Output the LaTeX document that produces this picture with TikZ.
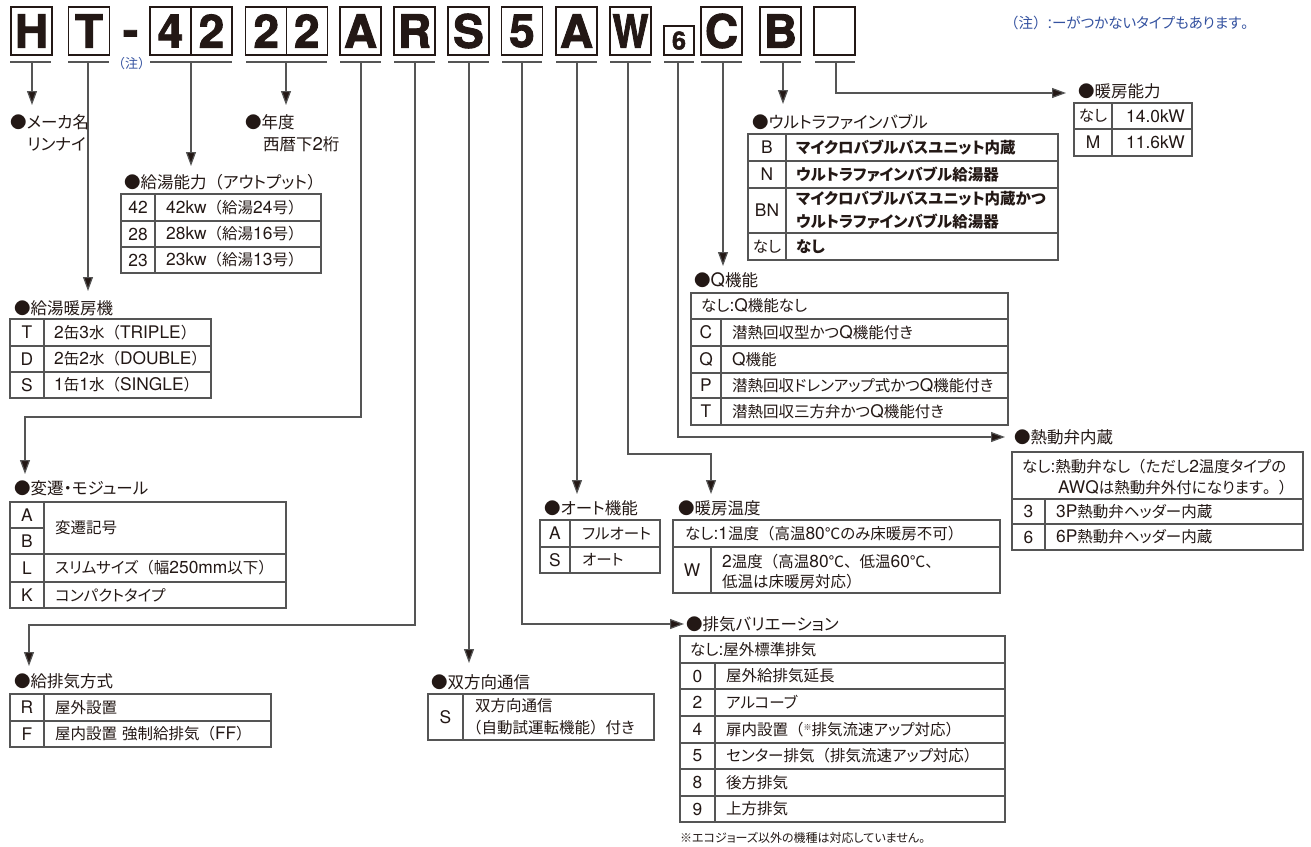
\documentclass[tikz,border=0pt]{standalone}
\usepackage{fontspec}
\setmainfont{TeX Gyre Heros}[Scale=1.12]
\newfontfamily\latfont{TeX Gyre Heros}[Scale=1.12]
\newfontfamily\jpfont{Noto Sans CJK JP}[RawFeature=+palt]
\newfontfamily\jpnfont{Noto Sans CJK JP}
\newfontfamily\hfont{TeX Gyre Heros}[BoldFeatures={FakeBold=2}]
% automatic switch between Latin and Japanese fonts
\XeTeXinterchartokenstate=1
\newXeTeXintercharclass\cjkcls
\newXeTeXintercharclass\pnccls
\newcount\cc
\cc="3000
\loop
  \XeTeXcharclass\cc=\cjkcls
  \advance\cc by 1
\ifnum\cc<"A000 \repeat
\cc="FF01
\loop
  \XeTeXcharclass\cc=\cjkcls
  \advance\cc by 1
\ifnum\cc<"FF60 \repeat
\XeTeXcharclass"25CF=\cjkcls
\XeTeXcharclass"2103=\cjkcls
\XeTeXcharclass"203B=\cjkcls
\XeTeXcharclass"FF08=\pnccls
\XeTeXcharclass"FF09=\pnccls
\XeTeXcharclass"3001=\pnccls
\XeTeXcharclass"3002=\pnccls
\XeTeXinterchartoks 0 \cjkcls = {\jpfont}
\XeTeXinterchartoks 4095 \cjkcls = {\jpfont}
\XeTeXinterchartoks \pnccls \cjkcls = {\jpfont}
\XeTeXinterchartoks 0 \pnccls = {\jpnfont}
\XeTeXinterchartoks 4095 \pnccls = {\jpnfont}
\XeTeXinterchartoks \cjkcls \pnccls = {\jpnfont}
\XeTeXinterchartoks \cjkcls 0 = {\latfont}
\XeTeXinterchartoks \pnccls 0 = {\latfont}
\XeTeXinterchartoks \cjkcls 4095 = {\latfont}
\XeTeXinterchartoks \pnccls 4095 = {\latfont}
\usetikzlibrary{arrows.meta}
\definecolor{ink}{RGB}{35,24,21}
\definecolor{gline}{RGB}{85,85,85}
\definecolor{notec}{RGB}{52,82,160}
\newcommand\txtf{\fontsize{15.5}{18}\selectfont}
\newcommand\ttlf{\fontsize{16.5}{19}\selectfont}
\newcommand\hdrf{\hfont\bfseries\fontsize{46}{46}\selectfont}
\newcommand\hdrs{\hfont\bfseries\fontsize{25}{25}\selectfont}
\newcommand\hw[1]{\scalebox{0.83}[1]{#1}}
\tikzset{
  hb/.style={draw=ink, line width=1.4pt, minimum width=41pt, minimum height=48pt, inner sep=0pt, font=\hdrf},
  ul/.style={draw=gline, line width=1.5pt},
  ln/.style={draw=gline, line width=1.2pt},
  arr/.style={ln, -{Triangle[length=14pt,width=10pt,fill=ink]}},
  tb/.style={draw=gline, line width=1.1pt},
  tt/.style={anchor=west, inner sep=0pt, font=\ttlf},
  tx/.style={anchor=west, inner sep=0pt, font=\txtf},
  tc/.style={anchor=center, inner sep=0pt, font=\txtf},
  nt/.style={anchor=west, inner sep=0pt, text=notec},
}
\begin{document}
\begin{tikzpicture}[x=1pt,y=-1pt, every node/.style={inner sep=0pt, text=ink}]
\useasboundingbox (0,0) rectangle (1311,846);
\fill[white] (0,0) rectangle (1311,846);

% ---------- header ----------
\node[hb] (bH) at (31.5,31) {H};
\node[hb] (bT) at (89,31) {T};
\node[anchor=base, font=\hdrf] (dash) at (130.5,46) {-};
\node[hb] (b4) at (170.5,31) {4};
\node[hb] (b2a) at (211.5,31) {2};
\node[hb] (b2b) at (266.25,31) {2};
\node[hb] (b2c) at (306.75,31) {2};
\node[hb] (bA) at (360.5,31) {A};
\node[hb] (bR) at (414.5,31) {R};
\node[hb] (bS) at (468.5,31) {S};
\node[hb] (b5) at (522,31) {5};
\node[hb] (bA2) at (576.5,31) {A};
\node[hb] (bW) at (630.5,31) {\hw{W}};
\node[hb, minimum width=30pt, minimum height=29pt, font=\hdrs] (b6) at (679,40.5) {6};
\node[hb] (bC) at (721.5,31) {C};
\node[hb] (bB) at (780.5,31) {B};
\node[hb] (bE) at (834.5,31) {};

\node[nt, font=\fontsize{13}{15}\selectfont] (chu) at (112,64) {（注）};
\node[nt, font=\fontsize{14.5}{17}\selectfont] (note) at (1004,23) {（注）:ーがつかないタイプもあります。};

% underlines
\draw[ul] (10,62) -- (51,62) (68,62) -- (109,62) (150,62) -- (232,62) (246,62) -- (327,62)
  (340,62) -- (381,62) (394,62) -- (435,62) (448,62) -- (489,62) (502,62) -- (542,62)
  (556,62) -- (597,62) (610,62) -- (651,62) (664,62) -- (694,62) (701,62) -- (742,62)
  (760,62) -- (801,62) (815,62) -- (855,62);

% ---------- connector coordinates ----------
\coordinate (sH) at (32,62);   \coordinate (eH) at (32,105);
\coordinate (sT) at (88,62);   \coordinate (eT) at (88,291);
\coordinate (s42) at (191,62); \coordinate (e42) at (191,166);
\coordinate (s22) at (286,62); \coordinate (e22) at (286,105);
\coordinate (sA) at (361,62);  \coordinate (cA) at (25,417);  \coordinate (eA) at (25,474);
\coordinate (sR) at (415,62);  \coordinate (cR) at (29,625);  \coordinate (eR) at (29,666);
\coordinate (sS) at (469,62);  \coordinate (eS) at (469,663);
\coordinate (s5) at (522,62);  \coordinate (e5) at (684,624);
\coordinate (sA2) at (577,62); \coordinate (eA2) at (577,494);
\coordinate (sW) at (628,62);  \coordinate (cW) at (711,454); \coordinate (eW) at (711,494);
\coordinate (s6) at (678,62);  \coordinate (e6) at (1005,437);
\coordinate (sC) at (723,62);  \coordinate (eC) at (723,266);
\coordinate (sB) at (783,62);  \coordinate (eB) at (783,104);
\coordinate (sE) at (836,62);  \coordinate (eE) at (1066,93);

\draw[arr] (sH) -- (eH);
\draw[arr] (sT) -- (eT);
\draw[arr] (s42) -- (e42);
\draw[arr] (s22) -- (e22);
\draw[arr] (sA) |- (cA) -- (eA);
\draw[arr] (sR) |- (cR) -- (eR);
\draw[arr] (sS) -- (eS);
\draw[arr] (s5) |- (e5);
\draw[arr] (sA2) -- (eA2);
\draw[arr] (sW) |- (cW) -- (eW);
\draw[arr] (s6) |- (e6);
\draw[arr] (sC) -- (eC);
\draw[arr] (sB) -- (eB);
\draw[arr] (sE) |- (eE);

% ---------- maker / year ----------
\node[tt] (tMk) at (10,122) {●メーカ名};
\node[tt] (tMk2) at (27,144) {リンナイ};
\node[tt] (tYr) at (245,122) {●年度};
\node[tt] (tYr2) at (263,144) {西暦下2桁};

% ---------- 給湯能力 ----------
\node[tt] (tKy) at (124,182) {●給湯能力（アウトプット）};
\draw[tb] (121,194) rectangle (321,273);
\draw[tb] (121,221) -- (321,221) (121,247) -- (321,247) (155,194) -- (155,273);
\node[tc] (k1a) at (138,207.5) {42};
\node[tx] (k1b) at (166,207.5) {42kw（給湯24号）};
\node[tc] (k2a) at (138,234) {28};
\node[tx] (k2b) at (166,234) {28kw（給湯16号）};
\node[tc] (k3a) at (138,260) {23};
\node[tx] (k3b) at (166,260) {23kw（給湯13号）};

% ---------- 給湯暖房機 ----------
\node[tt] (tKd) at (14,308) {●給湯暖房機};
\draw[tb] (10,319) rectangle (211,398);
\draw[tb] (10,346) -- (211,346) (10,372) -- (211,372) (44,319) -- (44,398);
\node[tc] (d1a) at (27,332.5) {T};
\node[tx] (d1b) at (54,332.5) {2缶3水（TRIPLE）};
\node[tc] (d2a) at (27,359) {D};
\node[tx] (d2b) at (54,359) {2缶2水（DOUBLE）};
\node[tc] (d3a) at (27,385) {S};
\node[tx] (d3b) at (54,385) {1缶1水（SINGLE）};

% ---------- 変遷・モジュール ----------
\node[tt] (tHs) at (14,488) {●変遷・モジュール};
\draw[tb] (10,502) rectangle (286,608);
\draw[tb] (10,528) -- (44,528) (10,554) -- (286,554) (10,582) -- (286,582) (44,502) -- (44,608);
\node[tc] (h1a) at (27,515) {A};
\node[tc] (h2a) at (27,541) {B};
\node[tx] (h12b) at (55,528) {変遷記号};
\node[tc] (h3a) at (27,568) {L};
\node[tx] (h3b) at (55,568) {スリムサイズ（幅250mm以下）};
\node[tc] (h4a) at (27,595) {K};
\node[tx] (h4b) at (55,595) {コンパクトタイプ};

% ---------- 給排気方式 ----------
\node[tt] (tKh) at (14,681) {●給排気方式};
\draw[tb] (10,694) rectangle (271,747);
\draw[tb] (10,721) -- (271,721) (44,694) -- (44,747);
\node[tc] (g1a) at (27,707.5) {R};
\node[tx] (g1b) at (55,707.5) {屋外設置};
\node[tc] (g2a) at (27,734) {F};
\node[tx] (g2b) at (55,734) {屋内設置 強制給排気（FF）};

% ---------- 双方向通信 ----------
\node[tt] (tSh) at (431,682) {●双方向通信};
\draw[tb] (428,694) rectangle (654,740);
\draw[tb] (463,694) -- (463,740);
\node[tc] (s1a) at (445.5,717) {S};
\node[tx] (s1b) at (475,706) {双方向通信};
\node[tx] (s1c) at (466,728) {（自動試運転機能）付き};

% ---------- 排気バリエーション ----------
\node[tt] (tHv) at (686,624) {●排気バリエーション};
\draw[tb] (680,636) rectangle (1005,822);
\draw[tb] (680,663) -- (1005,663) (680,689) -- (1005,689) (680,716) -- (1005,716)
  (680,743) -- (1005,743) (680,769) -- (1005,769) (680,796) -- (1005,796) (715,663) -- (715,822);
\node[tx] (v0) at (690,649.5) {なし:屋外標準排気};
\node[tc] (v1a) at (697.5,676) {0};
\node[tx] (v1b) at (726,676) {屋外給排気延長};
\node[tc] (v2a) at (697.5,702.5) {2};
\node[tx] (v2b) at (726,702.5) {アルコーブ};
\node[tc] (v3a) at (697.5,729.5) {4};
\node[tx] (v3b) at (726,729.5) {扉内設置（{\fontsize{8}{8}\selectfont\raisebox{5pt}{※}}排気流速アップ対応）};
\node[tc] (v4a) at (697.5,756) {5};
\node[tx] (v4b) at (726,756) {センター排気（排気流速アップ対応）};
\node[tc] (v5a) at (697.5,782.5) {8};
\node[tx] (v5b) at (726,782.5) {後方排気};
\node[tc] (v6a) at (697.5,809) {9};
\node[tx] (v6b) at (726,809) {上方排気};
\node[anchor=west, font=\fontsize{12}{14}\selectfont] (vfn) at (680,838) {※エコジョーズ以外の機種は対応していません。};

% ---------- オート機能 ----------
\node[tt] (tAu) at (544,508) {●オート機能};
\draw[tb] (540,520) rectangle (660,573);
\draw[tb] (540,547) -- (660,547) (570,520) -- (570,573);
\node[tc] (a1a) at (555,533.5) {A};
\node[tx] (a1b) at (582,533.5) {フルオート};
\node[tc] (a2a) at (555,560) {S};
\node[tx] (a2b) at (582,560) {オート};

% ---------- 暖房温度 ----------
\node[tt] (tDo) at (678,508) {●暖房温度};
\draw[tb] (673,520) rectangle (1000,593);
\draw[tb] (673,547) -- (1000,547) (711,547) -- (711,593);
\node[tx] (o0) at (685,533.5) {なし:1温度（高温80℃のみ床暖房不可）};
\node[tc] (o1a) at (692,570) {W};
\node[tx] (o1b) at (722,562) {2温度（高温80℃、低温60℃、};
\node[tx] (o1c) at (722,582) {低温は床暖房対応）};

% ---------- 熱動弁内蔵 ----------
\node[tt] (tNd) at (1014,437) {●熱動弁内蔵};
\draw[tb] (1012,452) rectangle (1303,550);
\draw[tb] (1012,499) -- (1303,499) (1012,524) -- (1303,524) (1045,499) -- (1045,550);
\node[tx] (n0) at (1022,467) {なし:熱動弁なし（ただし2温度タイプの};
\node[tx] (n0b) at (1058,488) {AWQは熱動弁外付になります。）};
\node[tc] (n1a) at (1028.5,511.5) {3};
\node[tx] (n1b) at (1056,511.5) {3P熱動弁ヘッダー内蔵};
\node[tc] (n2a) at (1028.5,537) {6};
\node[tx] (n2b) at (1056,537) {6P熱動弁ヘッダー内蔵};

% ---------- Q機能 ----------
\node[tt] (tQ) at (694,280) {●Q機能};
\draw[tb] (691,293) rectangle (1008,425);
\draw[tb] (691,319) -- (1008,319) (691,346) -- (1008,346) (691,373) -- (1008,373)
  (691,398) -- (1008,398) (721,319) -- (721,425);
\node[tx] (q0) at (701,306) {なし:Q機能なし};
\node[tc] (q1a) at (706,332.5) {C};
\node[tx] (q1b) at (732,332.5) {潜熱回収型かつQ機能付き};
\node[tc] (q2a) at (706,359.5) {Q};
\node[tx] (q2b) at (732,359.5) {Q機能};
\node[tc] (q3a) at (706,385.5) {P};
\node[tx] (q3b) at (732,385.5) {潜熱回収ドレンアップ式かつQ機能付き};
\node[tc] (q4a) at (706,411.5) {T};
\node[tx] (q4b) at (732,411.5) {潜熱回収三方弁かつQ機能付き};

% ---------- ウルトラファインバブル ----------
\node[tt] (tUb) at (752,122) {●ウルトラファインバブル};
\draw[tb] (748,134) rectangle (1058,260);
\draw[tb] (748,161) -- (1058,161) (748,188) -- (1058,188) (748,233) -- (1058,233) (786,134) -- (786,260);
\node[tc] (u1a) at (767,147.5) {B};
\node[tx, font=\txtf\bfseries] (u1b) at (796,147.5) {マイクロバブルバスユニット内蔵};
\node[tc] (u2a) at (767,174.5) {N};
\node[tx, font=\txtf\bfseries] (u2b) at (796,174.5) {ウルトラファインバブル給湯器};
\node[tc] (u3a) at (767,210.5) {BN};
\node[tx, font=\txtf\bfseries] (u3b) at (796,199) {マイクロバブルバスユニット内蔵かつ};
\node[tx, font=\txtf\bfseries] (u3c) at (796,222) {ウルトラファインバブル給湯器};
\node[tc] (u4a) at (767,246.5) {なし};
\node[tx, font=\txtf\bfseries] (u4b) at (796,246.5) {なし};

% ---------- 暖房能力 ----------
\node[tt] (tDn) at (1078,91) {●暖房能力};
\draw[tb] (1074,103) rectangle (1192,156);
\draw[tb] (1074,129) -- (1192,129) (1112,103) -- (1112,156);
\node[tc] (c1a) at (1093,116) {なし};
\node[anchor=east, font=\txtf] (c1b) at (1185,116) {14.0kW};
\node[tc] (c2a) at (1093,142.5) {M};
\node[anchor=east, font=\txtf] (c2b) at (1185,142.5) {11.6kW};
\end{tikzpicture}
\end{document}
